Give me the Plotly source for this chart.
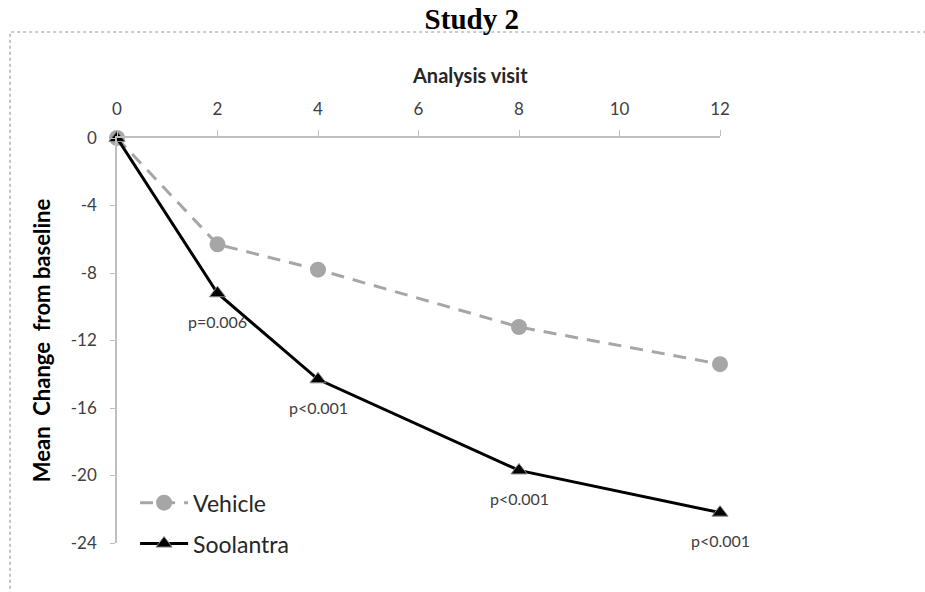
import plotly.graph_objects as go

visits = [0, 2, 4, 8, 12]
vehicle = [0, -6.3, -7.8, -11.2, -13.4]
soolantra = [0, -9.2, -14.3, -19.7, -22.2]
p_labels = ["", "p=0.006", "p<0.001", "p<0.001", "p<0.001"]
x_ticks = [0, 2, 4, 6, 8, 10, 12]
y_ticks = [0, -4, -8, -12, -16, -20, -24]
y_tick_text = ["0", "-4", "-8", "-12", "-16", "-20", "-24"]

FONT = "Lato, Open Sans, sans-serif"
fig = go.Figure()
fig.add_trace(go.Scatter(
    x=visits, y=vehicle, name="Vehicle", mode="lines+markers",
    line=dict(color="#a6a6a6", width=3, dash="13px,9px"),
    marker=dict(symbol="circle", size=16, color="#a6a6a6"),
    cliponaxis=False, legendgroup="v",
))
fig.add_trace(go.Scatter(
    x=visits, y=soolantra, name="Soolantra", mode="lines+markers",
    line=dict(color="#000000", width=3),
    marker=dict(symbol="triangle-up", size=14, color="#000000",
                line=dict(color="#888888", width=1)),
    cliponaxis=False, legendgroup="s",
))
for xv, yv, t in zip(visits, soolantra, p_labels):
    if t:
        fig.add_annotation(x=xv, y=yv, text=t, showarrow=False, yshift=-28,
                           font=dict(family=FONT, size=16, color="#404040"))

# x-axis title (offset to the right as in the reference)
fig.add_annotation(xref="paper", yref="paper", x=0.585, y=1.1556, text="<b>Analysis visit</b>",
                   showarrow=False, xanchor="center", yanchor="middle",
                   font=dict(family=FONT, size=20, color="#262626"))

fig.add_shape(type="rect", xref="paper", yref="paper",
              x0=-0.1774, x1=1.37, y0=-0.2, y1=1.2617,
              line=dict(color="#999999", width=1.2, dash="dot"), layer="below")

fig.update_layout(
    width=925, height=592,
    margin=dict(l=117, r=205, t=138, b=49),
    paper_bgcolor="white", plot_bgcolor="white",
    title=dict(text="<b>Study 2</b>", x=0.51, xanchor="center", y=0.968, yanchor="middle",
               font=dict(family="Liberation Serif, Times New Roman, serif", size=29, color="#000")),
    xaxis=dict(range=[0, 12], side="top", tickvals=x_ticks, showgrid=False, zeroline=False,
               showline=True, linecolor="#bfbfbf", linewidth=1.5,
               ticks="outside", ticklen=6, tickcolor="#bfbfbf", ticklabelstandoff=8,
               tickfont=dict(family=FONT, size=17, color="#404040")),
    yaxis=dict(range=[-24, 0], tickvals=y_ticks, ticktext=y_tick_text,
               showgrid=False, zeroline=False,
               showline=True, linecolor="#bfbfbf", linewidth=1.5,
               ticks="outside", ticklen=5, tickcolor="#bfbfbf", ticklabelstandoff=10,
               tickfont=dict(family=FONT, size=17, color="#404040"),
               title=dict(text="<b>Mean  Change  from baseline</b>", standoff=14,
                          font=dict(family=FONT, size=22, color="#000"))),
    legend=dict(x=0.03, y=0.1526, xanchor="left", yanchor="top", tracegroupgap=8,
                font=dict(family=FONT, size=23, color="#262626"),
                itemwidth=48, bgcolor="rgba(0,0,0,0)"),
    showlegend=True,
)
fig.write_html("out.html", config={"displayModeBar": False},
               post_script="document.body.style.margin='0';")
